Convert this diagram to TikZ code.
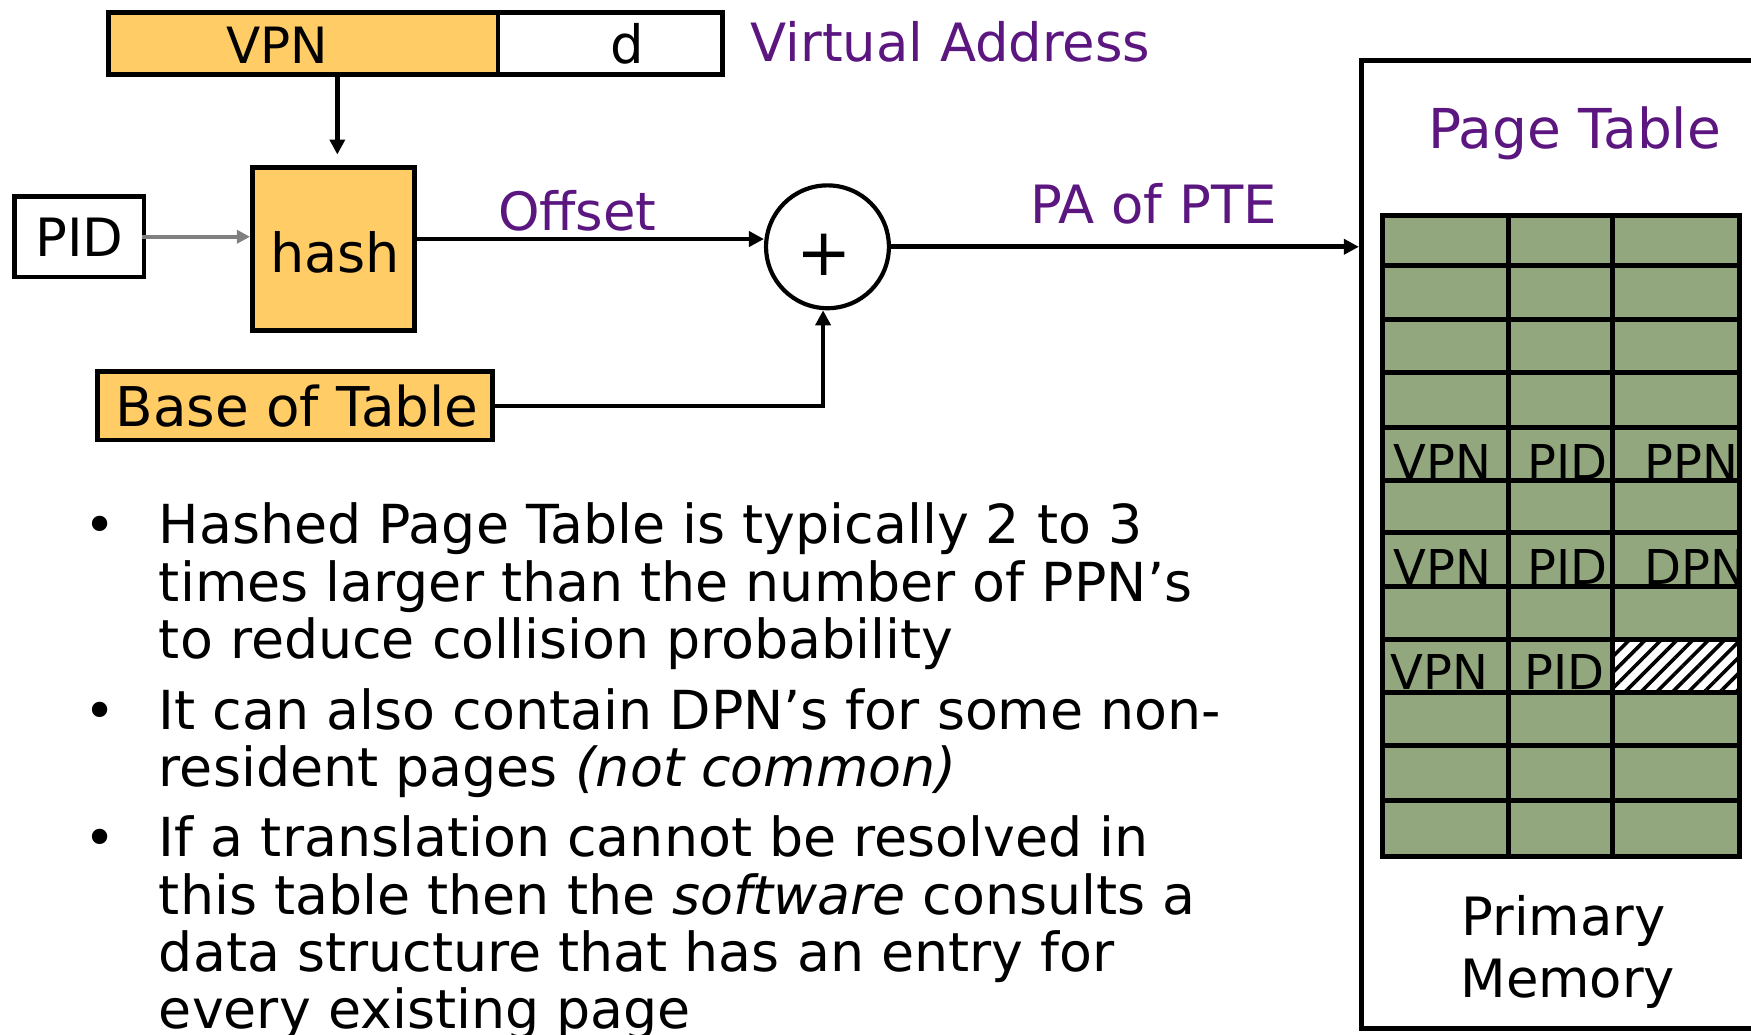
\documentclass[tikz,border=0pt]{standalone}
\usepackage{fontspec}
\setmainfont{DejaVu Sans}
\usetikzlibrary{arrows.meta,patterns.meta,calc}
\definecolor{boxorange}{RGB}{255,204,102}
\definecolor{cellgreen}{RGB}{146,167,125}
\definecolor{labelpurple}{RGB}{91,22,128}
\definecolor{pidgray}{RGB}{128,128,128}
\newdimen\pxu \pxu=0.5584pt
\tikzset{
  box/.style={draw=black, line width=2.4pt, inner sep=0pt},
  plainbox/.style={box, fill=white},
  orangebox/.style={box, fill=boxorange},
  txt/.style={font=\fontsize{26.4}{30}\selectfont, inner sep=0pt, text=black},
  lbl/.style={txt, text=labelpurple},
  celltxt/.style={font=\fontsize{24}{28}\selectfont, inner sep=0pt, anchor=base},
  arr/.style={line width=2.3pt, -{Triangle[length=7.5pt,width=7.5pt]}},
  grayarr/.style={line width=1.9pt, draw=pidgray, -{Triangle[length=6.5pt,width=6.5pt]}},
  gridline/.style={line width=2.5pt},
  bul/.style={txt, anchor=base},
  bline/.style={txt, anchor=base west, font=\fontsize{26.9}{30}\selectfont},
}
\begin{document}
\begin{tikzpicture}[x=0.5584pt,y=-0.5584pt]
\useasboundingbox (0,0) rectangle (1568,926);
\clip (0,0) rectangle (1568,926);

% virtual address fields
\node[orangebox, minimum width=349*\pxu, minimum height=56*\pxu] (vpn) at (271.5,39) {};
\node[plainbox, minimum width=201*\pxu, minimum height=56*\pxu] (dfield) at (546.5,39) {};
\node[txt, anchor=base, font=\fontsize{25}{30}\selectfont] (vpntext) at (248,57) {VPN};
\node[txt, anchor=base] (dtext) at (562,57) {d};
\node[lbl, anchor=base west] (valabel) at (672,55) {Virtual Address};

% PID and hash
\node[plainbox, minimum width=116*\pxu, minimum height=72*\pxu] (pid) at (71,212) {};
\node[txt, anchor=base] (pidtext) at (71,230) {PID};
\node[orangebox, minimum width=145*\pxu, minimum height=146*\pxu] (hash) at (298.5,223) {};
\node[txt, anchor=base, font=\fontsize{27}{30}\selectfont] (hashtext) at (300,244) {hash};

% adder
\node[circle, draw, line width=2.1pt, minimum size=110*\pxu, inner sep=0pt] (plus) at (741,221) {};
\node[txt, font=\fontsize{33}{36}\selectfont] (plustext) at (738,228) {+};

% base of table
\node[orangebox, minimum width=354*\pxu, minimum height=61*\pxu] (base) at (264,363.5) {};
\node[txt, anchor=base, font=\fontsize{27.4}{30}\selectfont] (basetext) at (266,382) {Base of Table};

% labels
\node[lbl, anchor=base] (offsetlabel) at (517,206) {Offset};
\node[lbl, anchor=base] (palabel) at (1033,200) {PA of PTE};

% primary memory
\node[box, minimum width=420*\pxu, minimum height=867*\pxu] (mem) at (1429,487.5) {};
\node[lbl, anchor=base, font=\fontsize{27.5}{30}\selectfont] (ptlabel) at (1410,133) {Page Table};
\node[txt, anchor=base] (prim) at (1400,838) {Primary};
\node[txt, anchor=base] (memo) at (1404,893) {Memory};

% connectors
\draw[arr] ([xshift=2pt]hash.north |- vpn.south) -- ([xshift=2pt,yshift=5.3pt]hash.north);
\draw[grayarr] ([xshift=-2pt]pid.east) -- (pid.east -| hash.west);
\draw[arr] ([yshift=5pt]hash.east) -- ([yshift=5pt]hash.east -| plus.west);
\draw[arr] (base.east) -| ([xshift=-2.2pt]plus.south);
\draw[arr] (plus.east) -- (plus.east -| mem.west);

% page table grid
\fill[cellgreen] (1238,193) rectangle (1558,767);
\fill[white] (1444,573) rectangle (1558,620);
\fill[pattern={Lines[angle=45,distance=5.6pt,line width=1.8pt]}] (1444,573) rectangle (1558,620);
\begin{scope}
\clip (1238,193) rectangle (1558,767);
\node[celltxt] (r5a) at (1292,429) {VPN};
\node[celltxt] (r5b) at (1404,429) {PID};
\node[celltxt] (r5c) at (1515,429) {PPN};
\node[celltxt] (r7a) at (1292,523) {VPN};
\node[celltxt] (r7b) at (1404,523) {PID};
\node[celltxt] (r7c) at (1518,523) {DPN};
\node[celltxt] (r9a) at (1289,617) {VPN};
\node[celltxt] (r9b) at (1401,617) {PID};
\end{scope}
\draw[gridline] (1238,193) rectangle (1558,767);
\foreach \yy in {238,286,334,383,430,477,525,573,620,668,717}
  \draw[gridline] (1238,\yy) -- (1558,\yy);
\foreach \xx in {1351,1444}
  \draw[gridline] (\xx,193) -- (\xx,767);

% bullets
\node[bul] (d1) at (90,487) {•};
\node[bline] (t1) at (142,487) {Hashed Page Table is typically 2 to 3};
\node[bline] (t2) at (142,539) {times larger than the number of PPN’s};
\node[bline] (t3) at (142,590) {to reduce collision probability};
\node[bul] (d2) at (90,653) {•};
\node[bline] (t4) at (142,653) {It can also contain DPN’s for some non-};
\node[bline] (t5) at (142,704) {resident pages \textit{(not common)}};
\node[bul] (d3) at (90,767) {•};
\node[bline] (t6) at (142,767) {If a translation cannot be resolved in};
\node[bline] (t7) at (142,819) {this table then the \textit{software} consults a};
\node[bline] (t8) at (142,870) {data structure that has an entry for};
\node[bline] (t9) at (142,921) {every existing page};
\end{tikzpicture}
\end{document}
